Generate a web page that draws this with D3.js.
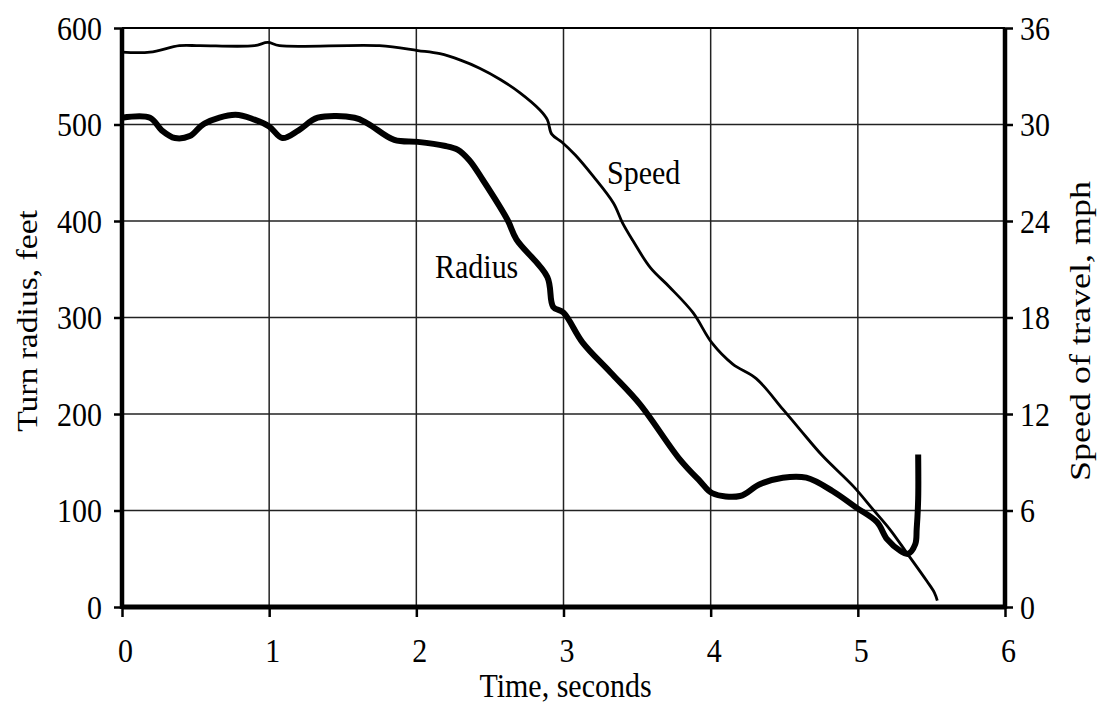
<!DOCTYPE html>
<html><head><meta charset="utf-8">
<script src="https://cdn.jsdelivr.net/npm/d3@7"></script>
<style>body{margin:0;background:#fff}svg{display:block}text{font-family:"Liberation Serif","Times New Roman",serif;fill:#000}</style>
</head><body><svg id="c" width="1104" height="711"></svg>
<script>
const timeTicks = [0,1,2,3,4,5,6];
const radiusTicks = [0,100,200,300,400,500,600];
const speedTicks = [0,6,12,18,24,30,36];
const radiusT = [0,0.19,0.27,0.36,0.46,0.56,0.77,0.9,1.0,1.09,1.2,1.33,1.58,1.67,1.85,2.01,2.19,2.28,2.36,2.45,2.62,2.68,2.89,2.93,3.0,3.13,3.32,3.52,3.79,3.93,4.01,4.2,4.33,4.49,4.65,4.83,4.99,5.13,5.2,5.29,5.34,5.39,5.40,5.41,5.41];
const radiusV = [507,507,494,486,488,501,510,505,498,486,494,507,507,501,484,482,478,474,463,443,401,381,342,311,305,274,243,210,153,130,118,115,127,134,134,120,103,88,70,58,55,65,81,112,158];
const speedT = [0,0.19,0.39,0.53,0.9,0.99,1.07,1.75,2.01,2.16,2.3,2.43,2.57,2.7,2.84,2.89,2.92,2.99,3.08,3.2,3.34,3.40,3.47,3.59,3.72,3.88,4.01,4.15,4.31,4.49,4.61,4.76,4.97,5.1,5.22,5.33,5.47,5.52,5.54];
const speedV = [34.5,34.5,34.9,34.9,34.9,35.1,34.9,34.9,34.6,34.4,34.0,33.5,32.8,32.0,30.9,30.3,29.4,28.9,28.1,26.8,25.1,23.9,22.8,21.1,19.9,18.3,16.4,15.1,14.2,12.3,11.0,9.4,7.5,6.1,4.8,3.4,1.6,0.9,0.4];

const svg = d3.select("#c");
const L=122, R=1005, T=28, B=607;
const x = d3.scaleLinear().domain([0,6]).range([L,R]);
const yL = d3.scaleLinear().domain([0,600]).range([B,T]);
const yR = d3.scaleLinear().domain([0,36]).range([B,T]);

// grid
const g = svg.append("g");
g.selectAll(".vg").data(timeTicks.slice(1,6)).join("line")
  .attr("x1",d=>x(d)).attr("x2",d=>x(d)).attr("y1",T).attr("y2",B)
  .attr("stroke","#222").attr("stroke-width",1.5);
g.selectAll(".hg").data(radiusTicks.slice(1)).join("line")
  .attr("x1",L).attr("x2",R).attr("y1",d=>yL(d)).attr("y2",d=>yL(d))
  .attr("stroke","#222").attr("stroke-width",1.5);

// axes
const fs = 30, sy = 1.15;
const ax = svg.append("g").attr("transform",`translate(0,${B})`)
  .call(d3.axisBottom(x).tickValues(timeTicks).tickSize(10).tickFormat(d3.format("d")));
const ay = svg.append("g").attr("transform",`translate(${L},0)`)
  .call(d3.axisLeft(yL).tickValues(radiusTicks).tickSize(8).tickPadding(12));
const ar = svg.append("g").attr("transform",`translate(${R},0)`)
  .call(d3.axisRight(yR).tickValues(speedTicks).tickSize(8).tickPadding(7));
[ax,ay,ar].forEach(a=>{
  a.select(".domain").remove();
  a.selectAll(".tick line").attr("stroke","#000").attr("stroke-width",2.5);
  a.selectAll("text").style("font-size",fs+"px").style("font-family",'"Liberation Serif",serif').attr("fill","#000")
    .attr("dy","0.33em");
});
ax.selectAll("text").attr("y",0).attr("transform",`translate(3,44) scale(1,${sy})`);
ay.selectAll("text").attr("transform",`scale(1,${sy})`);
ar.selectAll("text").attr("transform",`scale(1,${sy})`);

// frame lines
svg.append("line").attr("x1",L).attr("x2",L).attr("y1",T).attr("y2",B+2).attr("stroke","#000").attr("stroke-width",4.5);
svg.append("line").attr("x1",R).attr("x2",R).attr("y1",T).attr("y2",B+2).attr("stroke","#000").attr("stroke-width",4.5);
svg.append("line").attr("x1",L).attr("x2",R).attr("y1",B).attr("y2",B).attr("stroke","#000").attr("stroke-width",5);
svg.append("line").attr("x1",L).attr("x2",R).attr("y1",T).attr("y2",T).attr("stroke","#000").attr("stroke-width",2);

// lines
const lr = d3.line().x(d=>x(d[0])).y(d=>yL(d[1])).curve(d3.curveCatmullRom.alpha(0.5));
const ls = d3.line().x(d=>x(d[0])).y(d=>yR(d[1])).curve(d3.curveCatmullRom.alpha(0.5));
svg.append("path").attr("d",ls(d3.zip(speedT,speedV))).attr("fill","none").attr("stroke","#000").attr("stroke-width",2.8).attr("stroke-linejoin","round");
svg.append("path").attr("d",lr(d3.zip(radiusT,radiusV))).attr("fill","none").attr("stroke","#000").attr("stroke-width",6).attr("stroke-linejoin","round").attr("stroke-linecap","butt");

// labels
function htext(txt, cx, cy, anchor){
  return svg.append("text").attr("transform",`translate(${cx},${cy}) scale(1,${sy})`)
    .attr("text-anchor",anchor||"start").style("font-size",fs+"px").text(txt);
}
htext("Speed", 607, 184);
htext("Radius", 435, 278);
htext("Time, seconds", (L+R)/2+2, 697, "middle");
svg.append("text").attr("transform",`translate(37,321) rotate(-90) scale(1.12,1)`).attr("text-anchor","middle").style("font-size",fs+"px").text("Turn radius, feet");
svg.append("text").attr("transform",`translate(1090,331) rotate(-90) scale(1.2,1)`).attr("text-anchor","middle").style("font-size",fs+"px").text("Speed of travel, mph");
</script></body></html>
